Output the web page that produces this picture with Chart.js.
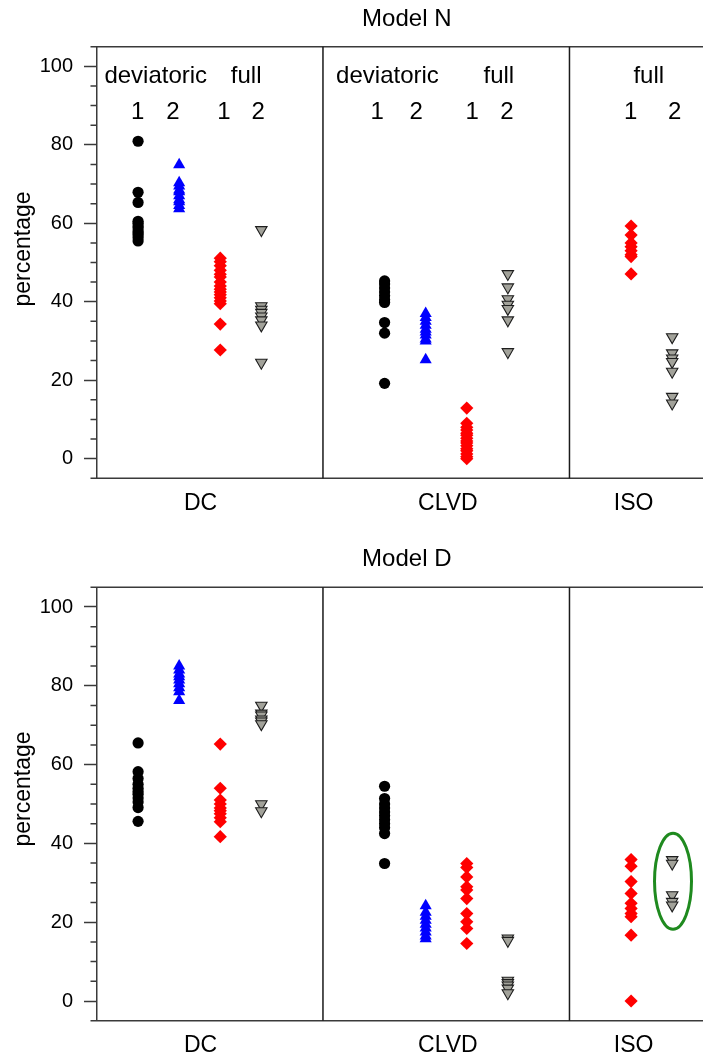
<!DOCTYPE html>
<html>
<head>
<meta charset="utf-8">
<script src="https://cdn.jsdelivr.net/npm/chart.js@4.4.1/dist/chart.umd.min.js"></script>
<style>
  html, body { margin: 0; padding: 0; background: #ffffff; }
  #wrap { position: relative; width: 703px; height: 1059px; overflow: hidden; }
  canvas { position: absolute; left: 0; }
</style>
</head>
<body>
<div id="wrap">
  <canvas id="chartN" width="703" height="530" style="top:0px"></canvas>
  <canvas id="chartD" width="703" height="529" style="top:530px"></canvas>
</div>
<script>
// ---- categories and tick labels ----
const categories = ['DC', 'CLVD', 'ISO'];
const yMajorTicks = [0, 20, 40, 60, 80, 100];
const headerWords = ['deviatoric', 'full', 'deviatoric', 'full', 'full'];
const headerNumbers = ['1', '2', '1', '2', '1', '2', '1', '2', '1', '2'];

// ---- Model N (percentages) ----
const nDcDev1   = [80.9, 67.9, 65.3, 60.5, 60.0, 59.3, 58.8, 58.0, 57.5, 57.0, 56.3, 55.5];
const nDcDev2   = [74.9, 70.3, 69.5, 68.5, 68.0, 67.0, 66.0, 65.5, 64.5, 63.7];
const nDcFull1  = [51.1, 50.2, 49.2, 48.0, 47.0, 46.3, 45.0, 44.0, 43.2, 42.5, 41.8, 41.0, 40.2, 39.5, 34.3, 27.7];
const nDcFull2  = [58.3, 38.9, 38.0, 37.2, 36.3, 35.3, 34.0, 24.5];
const nClvdDev1 = [45.3, 44.5, 43.5, 42.5, 41.5, 40.5, 39.8, 34.7, 32.0, 19.2];
const nClvdDev2 = [37.0, 36.0, 35.0, 34.0, 33.0, 32.3, 31.5, 30.5, 30.0, 25.2];
const nClvdFull1 = [12.9, 9.0, 8.0, 7.3, 6.5, 6.0, 5.2, 4.5, 4.0, 3.3, 2.5, 2.0, 1.2, 0.5, 0.0];
const nClvdFull2 = [47.1, 43.7, 40.7, 39.3, 38.2, 35.3, 27.2];
const nIsoFull1 = [59.3, 57.0, 55.0, 54.0, 53.0, 52.0, 51.5, 47.1];
const nIsoFull2 = [31.0, 26.9, 25.6, 24.7, 22.2, 15.8, 14.1];

// ---- Model D (percentages) ----
const dDcDev1   = [65.5, 58.2, 56.5, 55.0, 54.0, 53.2, 52.5, 51.5, 50.5, 49.1, 45.6];
const dDcDev2   = [85.0, 84.0, 83.0, 82.3, 81.5, 80.5, 79.5, 78.5, 76.3];
const dDcFull1  = [65.2, 54.0, 51.0, 50.0, 49.0, 48.3, 47.5, 46.5, 45.5, 41.7];
const dDcFull2  = [75.0, 73.0, 72.5, 71.5, 71.0, 70.3, 50.0, 48.2];
const dClvdDev1 = [54.5, 51.4, 50.0, 49.0, 48.0, 47.0, 46.0, 45.0, 44.0, 42.5, 34.9];
const dClvdDev2 = [24.2, 22.5, 21.5, 20.5, 19.5, 18.5, 17.5, 16.5, 15.8];
const dClvdFull1 = [34.9, 33.9, 31.5, 29.0, 28.2, 26.0, 22.2, 20.1, 18.4, 14.6];
const dClvdFull2 = [15.9, 15.3, 5.2, 4.6, 4.0, 3.2, 2.0];
const dIsoFull1 = [35.9, 34.2, 30.3, 27.3, 24.8, 23.5, 22.2, 21.4, 16.7, 0.0];
const dIsoFull2 = [35.8, 34.9, 26.9, 25.2, 24.3];

// ---- layout on the x scale (column slots per category) ----
const colDev1 = [1, 7];
const colDev2 = [2, 8];
const colFull1 = [3, 9, 13];
const colFull2 = [4, 10, 14];
const dividerX = [5.5, 11.5];
const categoryX = [2.52, 8.54, 13.06];
const headerWordX = [1.43, 3.63, 7.07, 9.78, 13.43];
const headerNumberX = [0.99, 1.85, 3.09, 3.92, 6.82, 7.77, 9.13, 9.98, 12.99, 14.06];

const FONT = "'Liberation Sans', Arial, Helvetica, sans-serif";
const AXIS_COLOR = '#3a3a3a';

function points(groups, cols) {
  const out = [];
  groups.forEach((vals, i) => vals.forEach(v => out.push({ x: cols[i], y: v })));
  return out;
}

function makeDatasets(dev1, dev2, full1, full2) {
  return [
    { label: 'deviatoric 1', data: points(dev1, colDev1), pointStyle: 'circle', pointRadius: 5.6,
      backgroundColor: '#000000', borderWidth: 0 },
    { label: 'deviatoric 2', data: points(dev2, colDev2), pointStyle: 'triangle', pointRadius: 7,
      backgroundColor: '#0000ff', borderWidth: 0 },
    { label: 'full 1', data: points(full1, colFull1), pointStyle: 'rectRot', pointRadius: 6.6,
      backgroundColor: '#ff0000', borderWidth: 0 },
    { label: 'full 2', data: points(full2, colFull2), pointStyle: 'triangle', rotation: 180, pointRadius: 6.6,
      backgroundColor: '#a2a29a', borderColor: '#1e1e1e', borderWidth: 1.1 }
  ];
}

// frame, dividers, minor ticks and all text of a panel
const decor = {
  id: 'decor',
  beforeDatasetsDraw(chart, args, o) {
    const { ctx, chartArea: a, scales: { x, y } } = chart;
    ctx.save();
    ctx.strokeStyle = AXIS_COLOR;
    ctx.lineWidth = 1.5;
    // top and bottom frame
    ctx.beginPath();
    ctx.moveTo(a.left, a.top); ctx.lineTo(a.right, a.top);
    ctx.moveTo(a.left, a.bottom); ctx.lineTo(a.right, a.bottom);
    ctx.stroke();
    // category dividers
    ctx.strokeStyle = '#1a1a1a';
    ctx.beginPath();
    dividerX.forEach(d => {
      const px = x.getPixelForValue(d);
      ctx.moveTo(px, a.top); ctx.lineTo(px, a.bottom);
    });
    ctx.stroke();
    // minor ticks on the y axis
    ctx.strokeStyle = AXIS_COLOR;
    ctx.beginPath();
    for (let v = y.min; v <= y.max + 1e-6; v += 5) {
      if (yMajorTicks.includes(v)) continue;
      const py = y.getPixelForValue(v);
      ctx.moveTo(a.left - 6.5, py); ctx.lineTo(a.left, py);
    }
    ctx.stroke();

    ctx.fillStyle = '#000000';
    // panel title
    ctx.font = `24px ${FONT}`;
    ctx.textAlign = 'center';
    ctx.textBaseline = 'alphabetic';
    ctx.fillText(o.title, o.titleX, o.titleBaseline);
    // category labels under the axis
    ctx.font = `23px ${FONT}`;
    categories.forEach((c, i) => ctx.fillText(c, x.getPixelForValue(categoryX[i]), a.bottom + 31.5));
    // header labels inside the plot
    if (o.headers) {
      ctx.font = `24px ${FONT}`;
      headerWords.forEach((w, i) => ctx.fillText(w, x.getPixelForValue(headerWordX[i]), y.getPixelForValue(95.7)));
      headerNumbers.forEach((w, i) => ctx.fillText(w, x.getPixelForValue(headerNumberX[i]), y.getPixelForValue(86.5)));
    }
    // y axis title
    ctx.save();
    ctx.font = `23px ${FONT}`;
    ctx.translate(29.5, o.yTitleCenter);
    ctx.rotate(-Math.PI / 2);
    ctx.textAlign = 'center';
    ctx.fillText('percentage', 0, 0);
    ctx.restore();
    ctx.restore();
  },
  afterDatasetsDraw(chart, args, o) {
    if (!o.ellipse) return;
    const { ctx, scales: { x, y } } = chart;
    const e = o.ellipse;
    const cx = x.getPixelForValue(e.x);
    const cy = y.getPixelForValue(e.y);
    const rx = Math.abs(x.getPixelForValue(e.x + e.dx) - cx);
    const ry = Math.abs(y.getPixelForValue(e.y + e.dy) - cy);
    ctx.save();
    ctx.strokeStyle = '#1f8a1f';
    ctx.lineWidth = 3;
    ctx.beginPath();
    ctx.ellipse(cx, cy, rx, ry, 0, 0, Math.PI * 2);
    ctx.stroke();
    ctx.restore();
  }
};

function makeChart(id, datasets, pad, decorOpts) {
  return new Chart(document.getElementById(id), {
    type: 'scatter',
    data: { datasets },
    plugins: [decor],
    options: {
      responsive: false,
      animation: false,
      events: [],
      layout: { padding: pad, autoPadding: false },
      plugins: { legend: { display: false }, tooltip: { enabled: false }, decor: decorOpts },
      scales: {
        x: { type: 'linear', min: 0, max: 14.75, display: false },
        y: {
          type: 'linear', min: -5, max: 105,
          afterFit(s) { s.width = 97; },
          border: { display: true, color: AXIS_COLOR, width: 1.5 },
          grid: {
            display: true, drawOnChartArea: false, drawTicks: true, tickLength: 13, tickWidth: 1.5,
            tickColor: c => (yMajorTicks.includes(c.tick && c.tick.value) ? AXIS_COLOR : 'rgba(0,0,0,0)')
          },
          ticks: {
            stepSize: 5, autoSkip: false, padding: 11, color: '#000000',
            font: { family: FONT, size: 20 },
            callback: v => (yMajorTicks.includes(v) ? String(v) : '')
          }
        }
      },
      elements: { point: { hoverRadius: 0 } }
    }
  });
}

makeChart('chartN',
  makeDatasets([nDcDev1, nClvdDev1], [nDcDev2, nClvdDev2],
               [nDcFull1, nClvdFull1, nIsoFull1], [nDcFull2, nClvdFull2, nIsoFull2]),
  { top: 46.7, bottom: 51.7, left: 0, right: 0 },
  { title: 'Model N', titleX: 406.8, titleBaseline: 26, headers: true, yTitleCenter: 249 });

makeChart('chartD',
  makeDatasets([dDcDev1, dClvdDev1], [dDcDev2, dClvdDev2],
               [dDcFull1, dClvdFull1, dIsoFull1], [dDcFull2, dClvdFull2, dIsoFull2]),
  { top: 57.3, bottom: 38.3, left: 0, right: 0 },
  { title: 'Model D', titleX: 406.8, titleBaseline: 36, headers: false, yTitleCenter: 259,
    ellipse: { x: 14.02, y: 30.4, dx: 0.45, dy: 12.2 } });
</script>
</body>
</html>
